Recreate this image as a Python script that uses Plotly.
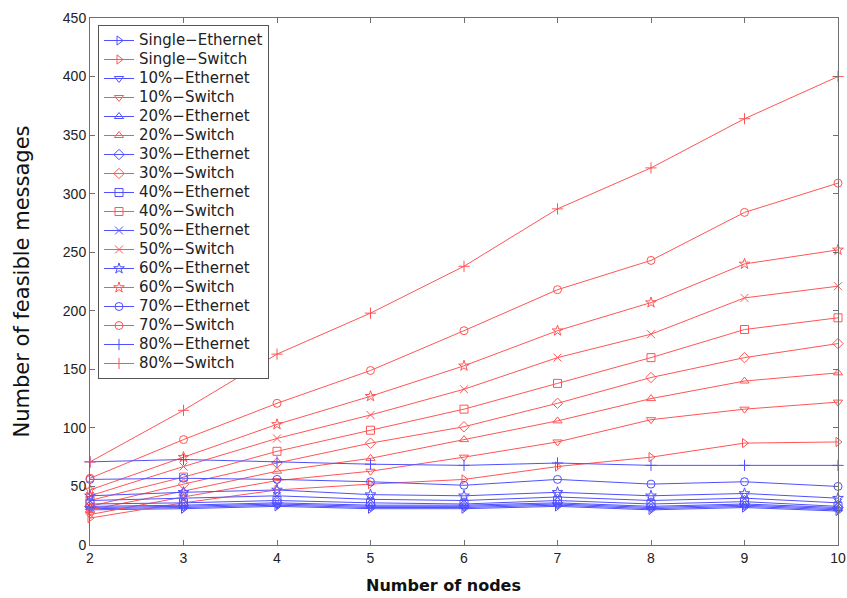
import plotly.graph_objects as go

nodes = [2, 3, 4, 5, 6, 7, 8, 9, 10]

series_names = ["Single", "10%", "20%", "30%", "40%", "50%", "60%", "70%", "80%"]
symbols = ["triangle-right-open", "triangle-down-open", "triangle-up-open", "diamond-open",
           "square-open", "x-thin-open", "star-open", "circle-open", "cross-thin-open"]

ethernet_single = [30, 31, 33, 31, 31, 33, 30, 32, 29]
ethernet_10 = [31, 32, 34, 32, 32, 34, 31, 33, 30]
ethernet_20 = [32, 33, 35, 33, 33, 35, 32, 34, 31]
ethernet_30 = [33, 34, 36, 34, 34, 36, 33, 35, 32]
ethernet_40 = [35, 36, 38, 36, 35, 38, 35, 37, 33]
ethernet_50 = [38, 40, 42, 39, 38, 41, 38, 40, 36]
ethernet_60 = [42, 45, 47, 43, 42, 45, 42, 44, 40]
ethernet_70 = [56, 57, 56, 54, 51, 56, 52, 54, 50]
ethernet_80 = [71, 73, 71, 69, 68, 70, 68, 68, 68]

switch_single = [23, 36, 47, 52, 56, 67, 75, 87, 88]
switch_10 = [26, 41, 55, 63, 75, 88, 107, 116, 122]
switch_20 = [30, 46, 63, 74, 90, 106, 125, 140, 147]
switch_30 = [33, 52, 70, 87, 101, 121, 143, 160, 172]
switch_40 = [38, 58, 80, 98, 116, 138, 160, 184, 194]
switch_50 = [42, 67, 91, 111, 133, 160, 180, 211, 221]
switch_60 = [47, 75, 103, 127, 153, 183, 207, 240, 252]
switch_70 = [57, 90, 121, 149, 183, 218, 243, 284, 309]
switch_80 = [71, 115, 163, 198, 238, 287, 322, 364, 400]

ethernet = [ethernet_single, ethernet_10, ethernet_20, ethernet_30, ethernet_40,
            ethernet_50, ethernet_60, ethernet_70, ethernet_80]
switch = [switch_single, switch_10, switch_20, switch_30, switch_40,
          switch_50, switch_60, switch_70, switch_80]

x_title = "Number of nodes"
y_title = "Number of feasible messages"

BLUE = "rgb(80,80,255)"
RED = "rgb(255,85,85)"


def legend_label(text):
    return f"<span style='font-size:15px'>{text}</span>"


fig = go.Figure()
for name, sym, e, s in zip(series_names, symbols, ethernet, switch):
    fig.add_trace(go.Scatter(x=nodes, y=e, name=legend_label(f"{name}\u2212Ethernet"),
                             mode="lines+markers",
                             line=dict(color=BLUE, width=1),
                             marker=dict(symbol=sym, size=8, color=BLUE, line=dict(width=1, color=BLUE)),
                             cliponaxis=False))
    fig.add_trace(go.Scatter(x=nodes, y=s, name=legend_label(f"{name}\u2212Switch"),
                             mode="lines+markers",
                             line=dict(color=RED, width=1),
                             marker=dict(symbol=sym, size=8, color=RED, line=dict(width=1, color=RED)),
                             cliponaxis=False))

axis_common = dict(showgrid=False, zeroline=False, showline=True, linecolor="#707070",
                   linewidth=1, mirror="ticks", ticks="inside", ticklen=5, tickcolor="#707070",
                   automargin=False,
                   tickfont=dict(family="Liberation Sans, Arial", size=14, color="#222"))

fig.update_layout(
    width=847, height=598,
    margin=dict(l=90, r=9, t=18, b=53),
    paper_bgcolor="white", plot_bgcolor="white",
    font=dict(family="Liberation Sans, Arial", color="#111"),
    xaxis=dict(range=[2, 10], tickvals=nodes, ticktext=[str(n) for n in nodes],
               **axis_common),
    yaxis=dict(range=[0, 450], tickvals=list(range(0, 451, 50)),
               title=dict(text=y_title,
                          font=dict(family="DejaVu Sans", size=21), standoff=27),
               **axis_common),
    legend=dict(x=0.0107, y=0.9867, xanchor="left", yanchor="top", bgcolor="white",
                bordercolor="#555", borderwidth=1,
                font=dict(family="DejaVu Sans", size=12, color="#222"),
                tracegroupgap=0, itemwidth=30),
    showlegend=True,
)
fig.add_annotation(text=f"<b>{x_title}</b>", xref="paper", yref="paper",
                   x=0.472, y=-0.076, xanchor="center", yanchor="middle", showarrow=False,
                   font=dict(family="DejaVu Sans", size=16, color="#111"))

fig.write_html("out.html", config={"displayModeBar": False},
               post_script="document.body.style.margin='0';document.body.style.overflow='hidden';")
